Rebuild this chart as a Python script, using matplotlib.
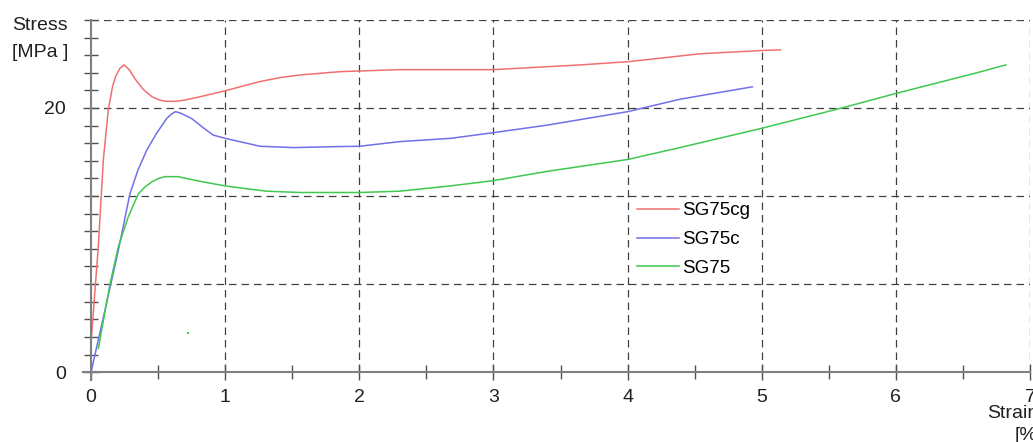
import matplotlib.pyplot as plt
from matplotlib.lines import Line2D
import numpy as np

plt.rcParams['font.family'] = ['Liberation Sans', 'DejaVu Sans']

# strain [%], stress [MPa]
sg75cg_x = [0.0, 0.055, 0.092, 0.129, 0.16, 0.184, 0.215, 0.246, 0.285, 0.328, 0.39, 0.453, 0.51, 0.564,
            0.63, 0.70, 0.835, 1.0, 1.13, 1.26, 1.41, 1.56, 1.86, 2.3, 3.0, 3.65, 4.0, 4.54, 5.0, 5.14]
sg75cg_y = [2.2, 9.6, 16.1, 19.85, 21.6, 22.4, 23.0, 23.26, 22.9, 22.2, 21.4, 20.86, 20.6, 20.5,
            20.5, 20.6, 20.9, 21.3, 21.65, 22.0, 22.3, 22.5, 22.75, 22.9, 22.9, 23.26, 23.5, 24.1, 24.35, 24.4]

sg75c_x = [0.0, 0.1, 0.204, 0.29, 0.35, 0.415, 0.49, 0.564, 0.60, 0.631, 0.67, 0.75, 0.837, 0.91,
           1.0, 1.13, 1.26, 1.51, 1.81, 2.0, 2.3, 2.68, 3.0, 3.4, 4.0, 4.39, 4.93]
sg75c_y = [0.0, 4.5, 9.24, 13.5, 15.3, 16.8, 18.1, 19.2, 19.55, 19.72, 19.6, 19.2, 18.5, 17.95,
           17.7, 17.4, 17.1, 17.0, 17.07, 17.1, 17.45, 17.7, 18.13, 18.7, 19.72, 20.66, 21.6]

sg75_x = [0.055, 0.142, 0.204, 0.278, 0.353, 0.40, 0.453, 0.50, 0.55, 0.65, 0.74, 0.837, 1.0, 1.15,
          1.31, 1.56, 2.0, 2.3, 2.68, 3.0, 3.4, 4.0, 4.39, 5.0, 5.59, 6.0, 6.58, 6.82]
sg75_y = [1.8, 6.7, 9.5, 11.77, 13.5, 14.0, 14.4, 14.65, 14.8, 14.8, 14.6, 14.4, 14.1, 13.9,
          13.7, 13.6, 13.6, 13.7, 14.1, 14.5, 15.2, 16.1, 17.0, 18.46, 19.98, 21.1, 22.6, 23.26]

stray_x = [0.72]
stray_y = [3.0]

fig = plt.figure(figsize=(10.33, 4.42), dpi=100)
ax = fig.add_axes([0.0881, 0.158, 0.9090, 0.797])

ax.plot(sg75cg_x, sg75cg_y, color='#f07070', lw=1.1, label='SG75cg')
ax.plot(sg75c_x, sg75c_y, color='#7070e8', lw=1.1, label='SG75c')
ax.plot(sg75_x, sg75_y, color='#40c850', lw=1.1, label='SG75')
ax.plot(stray_x, stray_y, 's', color='#40c850', ms=1.5, mew=0)

ytop = 80 / 3
ax.set_xlim(0, 7)
ax.set_ylim(0, ytop)

grid_kw = dict(color='#404040', lw=0.9, ls=(0, (6, 4)), zorder=0)
for gx in range(1, 8):
    ax.axvline(gx, **grid_kw)
for gy in np.arange(1, 5) * 20 / 3:
    ax.axhline(gy, **grid_kw)

for s in ax.spines.values():
    s.set_visible(False)
# axis lines that run a little past the origin
ax.add_line(Line2D([-0.06, 7.0], [0, 0], color='#808080', lw=1.5, clip_on=False))
ax.add_line(Line2D([0, 0], [-0.6, ytop], color='#808080', lw=1.5, clip_on=False))

ax.set_xticks(range(8))
ax.set_xticks(np.arange(0.5, 7, 1), minor=True)
ax.set_yticks([0, 20])
ax.set_yticks(np.arange(0, 21) * 4 / 3, minor=True)
ax.tick_params(which='both', direction='inout', color='#505050', width=1.0)
ax.tick_params(which='major', length=12, labelsize=14, labelcolor='#202020')
ax.tick_params(which='minor', length=10)
ax.tick_params(axis='y', which='major', pad=12)
ax.tick_params(axis='x', which='major', pad=6)

fig.text(0.012, 0.943, 'Stress', fontsize=14, ha='left', va='center', color='#202020')
fig.text(0.012, 0.882, '[MPa ]', fontsize=14, ha='left', va='center', color='#202020')
fig.text(0.956, 0.064, 'Strain', fontsize=14, ha='left', va='center', color='#202020')
fig.text(0.982, 0.014, '[%', fontsize=14, ha='left', va='center', color='#202020')

ax.legend(loc='upper left', bbox_to_anchor=(0.564, 0.53), frameon=False, fontsize=13.5,
          handlelength=2.2, handletextpad=0.2, labelspacing=0.62)

fig.savefig('out.png', dpi=100)
